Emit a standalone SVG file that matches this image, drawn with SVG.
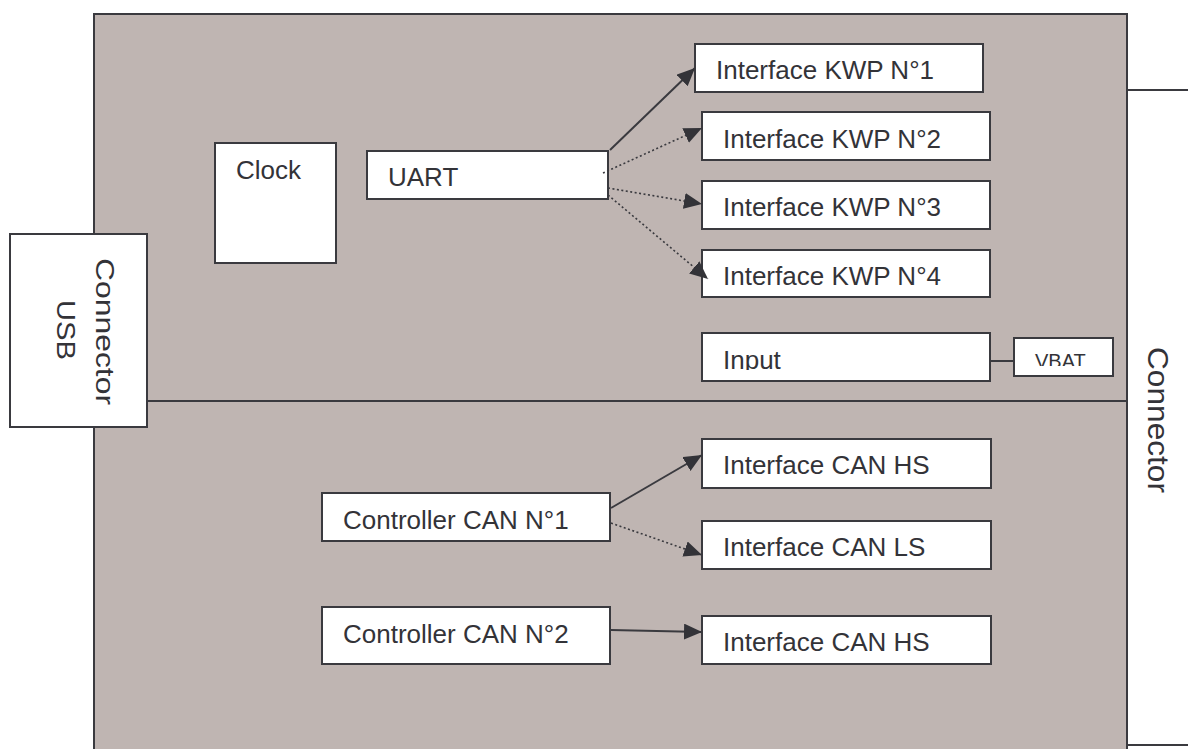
<svg xmlns="http://www.w3.org/2000/svg" width="1188" height="749" viewBox="0 0 1188 749">
  <style>
    .box { fill: #ffffff; stroke: #3a3a3f; stroke-width: 2; }
    .panel { fill: #bfb5b2; stroke: #3a3a3f; stroke-width: 2; }
    .edge { fill: none; stroke: #3a3a3f; stroke-width: 2; }
    .dot { fill: none; stroke: #3a3a3f; stroke-width: 1.6; stroke-dasharray: 2 2.5; }
    .lbl { font-family: "Liberation Sans", Arial, sans-serif; font-size: 26px; fill: #333338; }
    .small { font-size: 20px; }
  </style>
  <defs>
    <marker id="arrow" markerUnits="userSpaceOnUse" markerWidth="20" markerHeight="18" refX="18" refY="8" orient="auto">
      <path d="M0,0 L18,8 L0,16 Z" fill="#333338"/>
    </marker>
    <clipPath id="clipInput"><rect x="700" y="330" width="292" height="40"/></clipPath>
    <clipPath id="clipVbat"><rect x="1012" y="336" width="103" height="30"/></clipPath>
  </defs>

  <rect x="0" y="0" width="1188" height="749" fill="#ffffff"/>

  <!-- board outline and split -->
  <g id="board">
    <rect class="panel" x="94" y="14" width="1033" height="760"/>
    <line class="edge" x1="147" y1="401" x2="1127" y2="401"/>
  </g>

  <!-- right-hand connector -->
  <g id="connector-right">
    <line class="edge" x1="1127" y1="90" x2="1188" y2="90"/>
    <line class="edge" x1="1127" y1="745" x2="1188" y2="745"/>
    <text class="lbl" transform="translate(1148,347) rotate(90)" textLength="146" lengthAdjust="spacingAndGlyphs" style="font-size:30px">Connector</text>
  </g>

  <!-- USB connector -->
  <g id="connector-usb">
    <rect class="box" x="10" y="234" width="137" height="193"/>
    <text class="lbl" transform="translate(96,258) rotate(90)" textLength="147" lengthAdjust="spacingAndGlyphs" style="font-size:26px">Connector</text>
    <text class="lbl" transform="translate(57,300) rotate(90)" textLength="60" lengthAdjust="spacingAndGlyphs" style="font-size:26px">USB</text>
  </g>

  <g id="clock">
    <rect class="box" x="215" y="143" width="121" height="120"/>
    <text class="lbl" x="236" y="179">Clock</text>
  </g>

  <g id="uart">
    <rect class="box" x="367" y="151" width="241" height="48"/>
    <text class="lbl" x="388" y="186">UART</text>
  </g>

  <g id="kwp1">
    <rect class="box" x="695" y="44" width="288" height="48"/>
    <text class="lbl" x="716" y="79">Interface KWP N°1</text>
  </g>
  <g id="kwp2">
    <rect class="box" x="702" y="112" width="288" height="48"/>
    <text class="lbl" x="723" y="148">Interface KWP N°2</text>
  </g>
  <g id="kwp3">
    <rect class="box" x="702" y="181" width="288" height="48"/>
    <text class="lbl" x="723" y="216">Interface KWP N°3</text>
  </g>
  <g id="kwp4">
    <rect class="box" x="702" y="250" width="288" height="47"/>
    <text class="lbl" x="723" y="285">Interface KWP N°4</text>
  </g>

  <g id="input">
    <rect class="box" x="702" y="333" width="288" height="48"/>
    <text class="lbl" x="723" y="369" clip-path="url(#clipInput)">Input</text>
  </g>
  <g id="vbat">
    <rect class="box" x="1014" y="338" width="99" height="38"/>
    <text class="lbl small" x="1035" y="368" clip-path="url(#clipVbat)">VBAT</text>
  </g>

  <g id="can-ctrl1">
    <rect class="box" x="322" y="493" width="288" height="48"/>
    <text class="lbl" x="343" y="529">Controller CAN N°1</text>
  </g>
  <g id="can-ctrl2">
    <rect class="box" x="322" y="607" width="288" height="57"/>
    <text class="lbl" x="343" y="643">Controller CAN N°2</text>
  </g>

  <g id="can-hs1">
    <rect class="box" x="702" y="439" width="289" height="49"/>
    <text class="lbl" x="723" y="474">Interface CAN HS</text>
  </g>
  <g id="can-ls">
    <rect class="box" x="702" y="521" width="289" height="48"/>
    <text class="lbl" x="723" y="556">Interface CAN LS</text>
  </g>
  <g id="can-hs2">
    <rect class="box" x="702" y="616" width="289" height="48"/>
    <text class="lbl" x="723" y="651">Interface CAN HS</text>
  </g>

  <!-- links -->
  <g id="connectors">
    <line class="edge" x1="610" y1="150" x2="695" y2="68" marker-end="url(#arrow)"/>
    <line class="dot" x1="603" y1="173" x2="702" y2="128" marker-end="url(#arrow)"/>
    <line class="dot" x1="608" y1="188" x2="702" y2="204" marker-end="url(#arrow)"/>
    <line class="dot" x1="608" y1="195" x2="708" y2="279" marker-end="url(#arrow)"/>
    <line class="edge" x1="990" y1="361" x2="1014" y2="361"/>
    <line class="edge" x1="611" y1="508" x2="702" y2="455" marker-end="url(#arrow)"/>
    <line class="dot" x1="611" y1="523" x2="702" y2="555" marker-end="url(#arrow)"/>
    <line class="edge" x1="611" y1="630" x2="702" y2="632" marker-end="url(#arrow)"/>
  </g>
</svg>
